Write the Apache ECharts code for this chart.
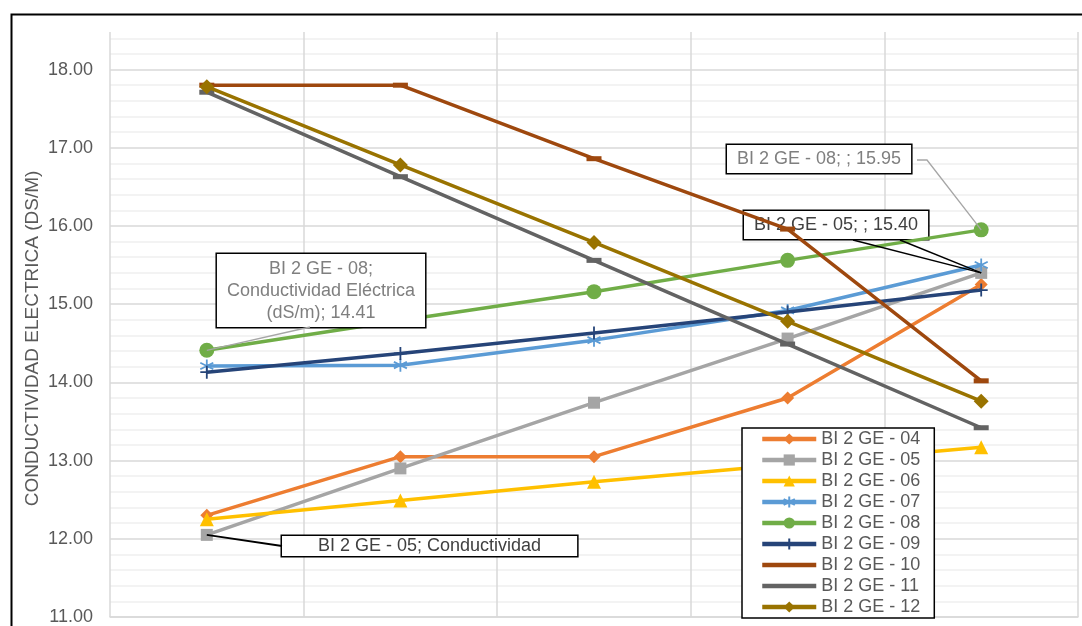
<!DOCTYPE html>
<html>
<head>
<meta charset="utf-8">
<title>Conductividad Eléctrica</title>
<script src="https://cdn.jsdelivr.net/npm/echarts@6/dist/echarts.min.js"></script>
<style>
  html, body { margin: 0; padding: 0; background: #ffffff; }
  #chart { width: 1082px; height: 626px; }
</style>
</head>
<body>
<div id="chart"></div>
<script>
// Categories: only the first sampling point carries a name
const categories = ['Conductividad Eléctrica (dS/m)', '', '', '', ''];

// Electrical conductivity (dS/m) per sample
const ge04 = [12.30, 13.05, 13.05, 13.80, 15.25];
const ge05 = [12.05, 12.90, 13.74, 14.56, 15.40];
const ge06 = [12.25, 12.49, 12.73, 12.95, 13.17];
const ge07 = [14.21, 14.22, 14.54, 14.92, 15.50];
const ge08 = [14.41, 14.79, 15.16, 15.56, 15.95];
const ge09 = [14.13, 14.37, 14.63, 14.90, 15.18];
const ge10 = [17.80, 17.80, 16.86, 15.96, 14.02];
const ge11 = [17.71, 16.63, 15.56, 14.49, 13.42];
const ge12 = [17.78, 16.78, 15.79, 14.78, 13.76];

// Value axis range and gridline steps (major every 1, minor every 0.2)
const yMin = 11, yMax = 18.48, yMinorStep = 0.2, yMajorEvery = 5;

const FONT = '"Liberation Sans", Arial, sans-serif';

const ASTERISK = 'path://M6,0L6,12M0.8,3L11.2,9M0.8,9L11.2,3';
const PLUS = 'path://M6,0L6,12M1,6L11,6';
const DASH_ICON = 'path://M0,0L54,0L54,4.5L0,4.5Z';

const seriesDefs = [
  { name: 'BI 2 GE - 04', data: ge04, color: '#ED7D31', symbol: 'diamond', size: 13 },
  { name: 'BI 2 GE - 05', data: ge05, color: '#A5A5A5', symbol: 'rect', size: 12 },
  { name: 'BI 2 GE - 06', data: ge06, color: '#FFC000', symbol: 'triangle', size: 14 },
  { name: 'BI 2 GE - 07', data: ge07, color: '#5B9BD5', symbol: ASTERISK, size: 13, stroke: true },
  { name: 'BI 2 GE - 08', data: ge08, color: '#70AD47', symbol: 'circle', size: 15 },
  { name: 'BI 2 GE - 09', data: ge09, color: '#264478', symbol: PLUS, size: 13, stroke: true },
  { name: 'BI 2 GE - 10', data: ge10, color: '#9E480E', symbol: 'rect', size: [15, 5], dash: true },
  { name: 'BI 2 GE - 11', data: ge11, color: '#636363', symbol: 'rect', size: [15, 5], dash: true },
  { name: 'BI 2 GE - 12', data: ge12, color: '#997300', symbol: 'diamond', size: 15 }
];

// Callout boxes: series name, category and value of the point
const boxStyle = {
  show: true,
  backgroundColor: '#ffffff',
  borderColor: '#000000',
  borderWidth: 1.5,
  fontFamily: FONT,
  fontSize: 18
};

// x, y: box anchor; leaders: leader line vertices on the box side (the point is added)
const callouts = {
  // BI 2 GE - 08, first point (wrapped)
  '4-0': {
    x: 321, y: 254, align: 'center',
    leaders: [[[310, 327]]],
    label: Object.assign({}, boxStyle, {
      color: '#7f7f7f', lineHeight: 22, padding: [4, 10, 3, 10], align: 'center',
      formatter: p => p.seriesName + ';\nConductividad Eléctrica\n(dS/m); ' + p.value.toFixed(2)
    }),
    line: '#a6a6a6', lineWidth: 1.3
  },
  // BI 2 GE - 08, last point
  '4-4': {
    x: 727, y: 145, align: 'left',
    leaders: [[[917, 160], [927, 160]]],
    label: Object.assign({}, boxStyle, {
      color: '#7f7f7f', lineHeight: 21, padding: [4, 10, 3, 10],
      formatter: p => p.seriesName + '; ' + p.name + '; ' + p.value.toFixed(2)
    }),
    line: '#a6a6a6', lineWidth: 1.3
  },
  // BI 2 GE - 05, last point (two converging leaders)
  '1-4': {
    x: 744, y: 211, align: 'left',
    leaders: [[[853, 240]], [[900, 240]]],
    label: Object.assign({}, boxStyle, {
      color: '#404040', lineHeight: 21, padding: [4, 10, 3, 10],
      formatter: p => p.seriesName + '; ' + p.name + '; ' + p.value.toFixed(2)
    }),
    line: '#000000', lineWidth: 1.5
  },
  // BI 2 GE - 05, first point (clipped text)
  '1-0': {
    x: 282, y: 536, align: 'left',
    leaders: [[[282, 546]]],
    label: Object.assign({}, boxStyle, {
      color: '#404040', lineHeight: 18, padding: [1, 36, 1, 36],
      formatter: p => p.seriesName + '; ' + p.name.split(' ')[0]
    }),
    line: '#000000', lineWidth: 1.8
  }
};

const series = seriesDefs.map((s, si) => {
  const data = s.data.map((v, di) => {
    const c = callouts[si + '-' + di];
    if (!c) return v;
    return { value: v, label: c.label };
  });
  return {
    name: s.name,
    type: 'line',
    data: data,
    symbol: s.symbol,
    symbolSize: s.size,
    showAllSymbol: true,
    lineStyle: { color: s.color, width: 3.5 },
    itemStyle: s.stroke
      ? { color: s.color, borderColor: s.color, borderWidth: 1.8 }
      : { color: s.color, borderWidth: 0 },
    label: { show: false },
    labelLine: { show: false },
    emphasis: { disabled: true },
    labelLayout: function (p) {
      const c = callouts[p.seriesIndex + '-' + p.dataIndex];
      if (!c) return {};
      return { x: c.x, y: c.y, align: c.align, verticalAlign: 'top', hideOverlap: false };
    },
    z: 2 + si
  };
});

// Gridline colours per tick: darker on whole units, lighter between, none on the top edge
const tickCount = Math.round((18.4 - yMin) / yMinorStep) + 2;
const gridColors = [];
for (let i = 0; i < tickCount; i++) {
  if (i === tickCount - 1) gridColors.push('rgba(0,0,0,0)');
  else gridColors.push(i % yMajorEvery === 0 ? '#d9d9d9' : '#efefef');
}

const frame = {
  id: 'frame',
  type: 'rect',
  left: 9, top: 12,
  shape: { width: 1100, height: 700 },
  style: { fill: 'none', stroke: '#000000', lineWidth: 2 },
  silent: true,
  z: 100
};

const chart = echarts.init(document.getElementById('chart'), null, { renderer: 'canvas' });

chart.setOption({
  animation: false,
  backgroundColor: '#ffffff',
  textStyle: { fontFamily: FONT },
  grid: { left: 110, right: 4, top: 32, bottom: 6, containLabel: false },
  xAxis: {
    type: 'category',
    data: categories,
    boundaryGap: true,
    axisLine: { show: true, lineStyle: { color: '#d9d9d9', width: 1.5 } },
    axisTick: { show: false, interval: 0 },
    axisLabel: { show: false, interval: 0 },
    splitLine: { show: true, interval: 0, lineStyle: { color: '#d9d9d9', width: 1.5 } }
  },
  yAxis: {
    type: 'value',
    min: yMin,
    max: yMax,
    interval: yMinorStep,
    name: 'CONDUCTIVIDAD ELECTRICA (DS/M)',
    nameLocation: 'middle',
    nameGap: 68,
    nameMoveOverlap: false,
    nameTextStyle: { color: '#595959', fontSize: 19, fontFamily: FONT, padding: [0, 28, 0, 0] },
    axisLine: { show: false },
    axisTick: { show: false },
    axisLabel: {
      color: '#595959',
      fontSize: 18,
      fontFamily: FONT,
      margin: 17,
      formatter: function (v) {
        return Math.abs(v - Math.round(v)) < 1e-6 ? Math.round(v).toFixed(2) : '';
      }
    },
    splitLine: { show: true, lineStyle: { color: gridColors, width: 1.5 } }
  },
  legend: {
    orient: 'vertical',
    left: 742,
    top: 428,
    z: 30,
    itemWidth: 54,
    itemHeight: 14,
    itemGap: 1,
    padding: [1, 14, 1, 18],
    backgroundColor: '#ffffff',
    borderColor: '#000000',
    borderWidth: 1.5,
    lineStyle: { width: 4.5 },
    textStyle: { color: '#595959', fontSize: 18, lineHeight: 20, fontFamily: FONT },
    data: seriesDefs.map(s => s.dash ? { name: s.name, icon: DASH_ICON } : s.name)
  },
  graphic: [frame],
  series: series
});

// Leader lines from each annotated point (located through the chart's own scales)
const leaderLines = [];
Object.keys(callouts).forEach(key => {
  const [si, di] = key.split('-').map(Number);
  const c = callouts[key];
  const pt = chart.convertToPixel({ seriesIndex: si }, [di, seriesDefs[si].data[di]]);
  c.leaders.forEach((via, k) => {
    leaderLines.push({
      id: 'leader-' + key + '-' + k,
      type: 'polyline',
      shape: { points: [pt].concat(via.slice().reverse()) },
      style: { fill: null, stroke: c.line, lineWidth: c.lineWidth },
      silent: true,
      z: 40
    });
  });
});
chart.setOption({ graphic: [frame].concat(leaderLines) });
</script>
</body>
</html>
